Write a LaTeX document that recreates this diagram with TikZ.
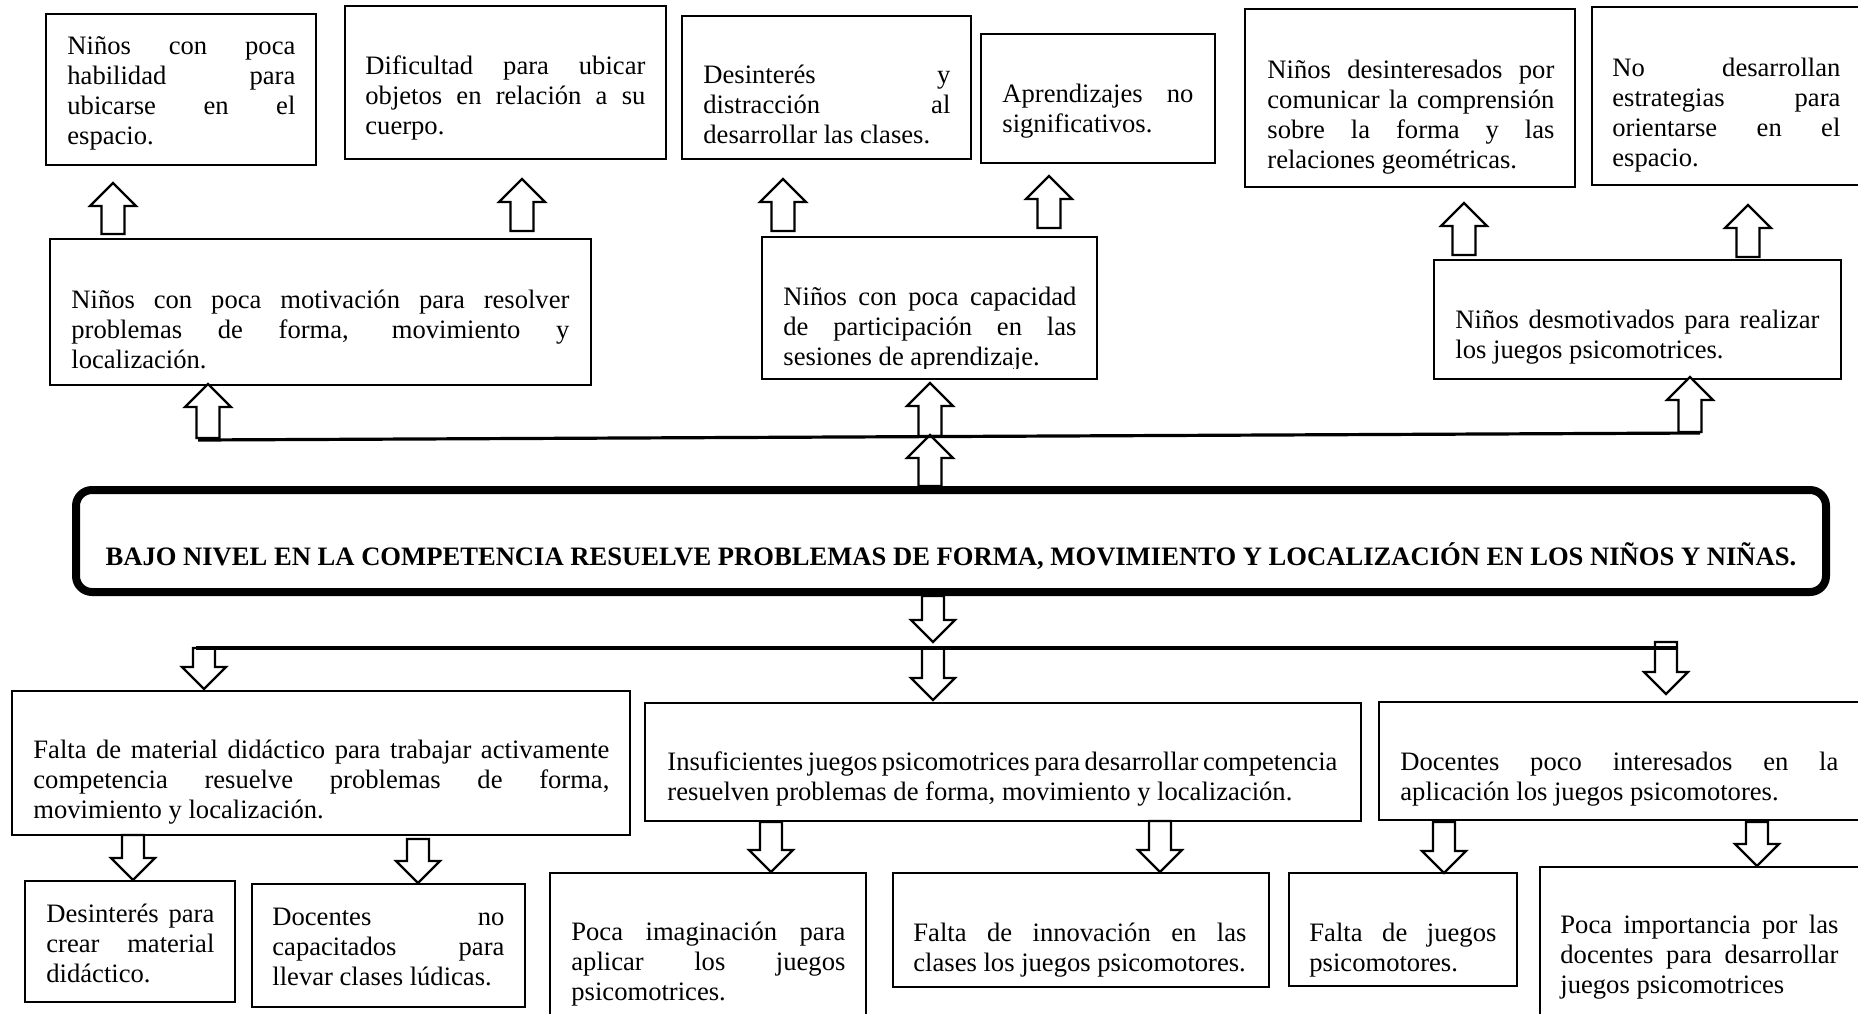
\documentclass[tikz,border=0pt]{standalone}
\usepackage{fontspec}
\setmainfont{Liberation Serif}
\usetikzlibrary{fit}
\hyphenpenalty=10000
\tolerance=10000
\tikzset{
every txt/.style={font=\fontsize{13.3}{15}\selectfont},
}

\begin{document}
\begin{tikzpicture}[x=0.5pt, y=-0.5pt,
                        box/.style={draw, line width=1.3pt, inner sep=0pt},
                        txt/.style={every txt, inner sep=0pt, anchor=base west, align=justify},
                        ttl/.style={inner sep=0pt, anchor=base, font=\fontsize{13.3}{15}\selectfont\bfseries},
                        conn/.style={line width=1.6pt},
                        blk/.style={line width=1.1pt, fill=white, line join=miter},
                        pics/uparr/.style={code={\draw[blk] (0,0) -- (23,23) -- (11.5,23) -- (11.5,#1) -- (-11.5,#1) -- (-11.5,23) -- (-23,23) -- cycle;}},
                        pics/dnarr/.style={code={\draw[blk] (0,0) -- (22,-22) -- (11,-22) -- (11,-#1) -- (-11,-#1) -- (-11,-22) -- (-22,-22) -- cycle;}},
                    ]
    \useasboundingbox (0,0) rectangle (1858,1013);
    % top row
    \node[box, fit={(46,14) (316,165)}] (a1) {};
    \node[txt, text width=114pt] (a1t) at (67,54) {Niños con poca\linebreak habilidad para\linebreak ubicarse en el\linebreak espacio.};
    \node[box, fit={(345,6) (666,159)}] (a2) {};
    \node[txt, text width=140pt] (a2t) at (365,74) {Dificultad para ubicar\linebreak objetos en relación a su\linebreak cuerpo.};
    \node[box, fit={(682,16) (971,159)}] (a3) {};
    \node[txt, text width=123.5pt] (a3t) at (703,83) {Desinterés y\linebreak distracción al\linebreak desarrollar las clases.};
    \node[box, fit={(981,34) (1215,163)}] (a4) {};
    \node[txt, text width=95.5pt] (a4t) at (1002,102) {Aprendizajes no\linebreak significativos.};
    \node[box, fit={(1245,9) (1575,187)}] (a5) {};
    \node[txt, text width=143.5pt] (a5t) at (1267,78) {Niños desinteresados por\linebreak comunicar la comprensión\linebreak sobre la forma y las\linebreak relaciones geométricas.};
    \node[box, fit={(1592,7) (1866,185)}] (a6) {};
    \node[txt, text width=114pt] (a6t) at (1612,76) {No desarrollan\linebreak estrategias para\linebreak orientarse en el\linebreak espacio.};
    % second row
    \node[box, fit={(50,239) (591,385)}] (b1) {};
    \node[txt, text width=249pt] (b1t) at (71,308) {Niños con poca motivación para resolver\linebreak problemas de forma, movimiento y\linebreak localización.};
    \node[box, fit={(762,237) (1097,379)}] (b2) {};
    \begin{scope}
        \clip (762,237) rectangle (1097,368);
        \node[txt, text width=146.5pt] (b2t) at (783,305) {Niños con poca capacidad\linebreak de participación en las\linebreak sesiones de aprendizaje.};
    \end{scope}
    \node[box, fit={(1434,260) (1841,379)}] (b3) {};
    \node[txt, text width=182pt] (b3t) at (1455,328) {Niños desmotivados para realizar\linebreak los juegos psicomotrices.};
    % problem
    \node[box, line width=4pt, rounded corners=8pt, fit={(76,490) (1826,592)}] (main) {};
    \node[ttl] (maint) at (951,565) {BAJO NIVEL EN LA COMPETENCIA RESUELVE PROBLEMAS DE FORMA, MOVIMIENTO Y LOCALIZACIÓN EN LOS NIÑOS Y NIÑAS.};
    % causes
    \node[box, fit={(12,691) (630,835)}] (c1) {};
    \node[txt, text width=288pt] (c1t) at (33,758) {Falta de material didáctico para trabajar activamente\linebreak competencia resuelve problemas de forma,\linebreak movimiento y localización.};
    \node[box, fit={(645,703) (1361,821)}] (c2) {};
    \node[txt, text width=335pt] (c2t) at (667,770) {Insuficientes juegos psicomotrices para desarrollar competencia\linebreak resuelven problemas de forma, movimiento y localización.};
    \node[box, fit={(1379,702) (1866,820)}] (c3) {};
    \node[txt, text width=219pt] (c3t) at (1400,770) {Docentes poco interesados en la\linebreak aplicación los juegos psicomotores.};
    % sub causes
    \node[box, fit={(25,881) (235,1002)}] (d1) {};
    \node[txt, text width=84pt] (d1t) at (46,922) {Desinterés para\linebreak crear material\linebreak didáctico.};
    \node[box, fit={(252,884) (525,1007)}] (d2) {};
    \node[txt, text width=116pt] (d2t) at (272,925) {Docentes no\linebreak capacitados para\linebreak llevar clases lúdicas.};
    \node[box, fit={(550,873) (866,1020)}] (d3) {};
    \node[txt, text width=137pt] (d3t) at (571,940) {Poca imaginación para\linebreak aplicar los juegos\linebreak psicomotrices.};
    \node[box, fit={(893,873) (1269,987)}] (d4) {};
    \node[txt, text width=166.5pt] (d4t) at (913,941) {Falta de innovación en las\linebreak clases los juegos psicomotores.};
    \node[box, fit={(1289,873) (1517,986)}] (d5) {};
    \node[txt, text width=93.5pt] (d5t) at (1309,941) {Falta de juegos\linebreak psicomotores.};
    \node[box, fit={(1540,867) (1866,1020)}] (d6) {};
    \node[txt, text width=139pt] (d6t) at (1560,933) {Poca importancia por las\linebreak docentes para desarrollar\linebreak juegos psicomotrices};
    % block arrows
    \pic (p-a1) at (113,183) {uparr=51};
    \pic (p-a2) at (522,179) {uparr=52};
    \pic (p-a3) at (783,179) {uparr=52};
    \pic (p-a4) at (1049,176) {uparr=52};
    \pic (p-a5) at (1464,203) {uparr=52};
    \pic (p-a6) at (1748,205) {uparr=52};
    \pic (p-b1) at (208,384) {uparr=54};
    \pic (p-b2) at (930,383) {uparr=53};
    \pic (p-b3) at (1690,377) {uparr=55};
    \pic (p-m) at (930,435) {uparr=51};
    \pic (p-lo) at (933,642) {dnarr=46};
    \pic (p-c1) at (204,689) {dnarr=41};
    \pic (p-c2) at (933,700) {dnarr=52};
    \pic (p-c3) at (1666,694) {dnarr=52};
    \pic (p-d1) at (133,880) {dnarr=45};
    \pic (p-d2) at (418,883) {dnarr=44};
    \pic (p-d3) at (771,872) {dnarr=50};
    \pic (p-d4) at (1160,872) {dnarr=51};
    \pic (p-d5) at (1444,873) {dnarr=51};
    \pic (p-d6) at (1757,866) {dnarr=44};
    % branch lines
    \coordinate (up-l) at (198,440);
    \coordinate (up-r) at (1700,433);
    \draw[conn] (up-l) -- (up-r);
    \coordinate (lo-l) at (196,648);
    \coordinate (lo-r) at (1677,648);
    \draw[conn] (lo-l) -- (lo-r);
\end{tikzpicture}
\end{document}
